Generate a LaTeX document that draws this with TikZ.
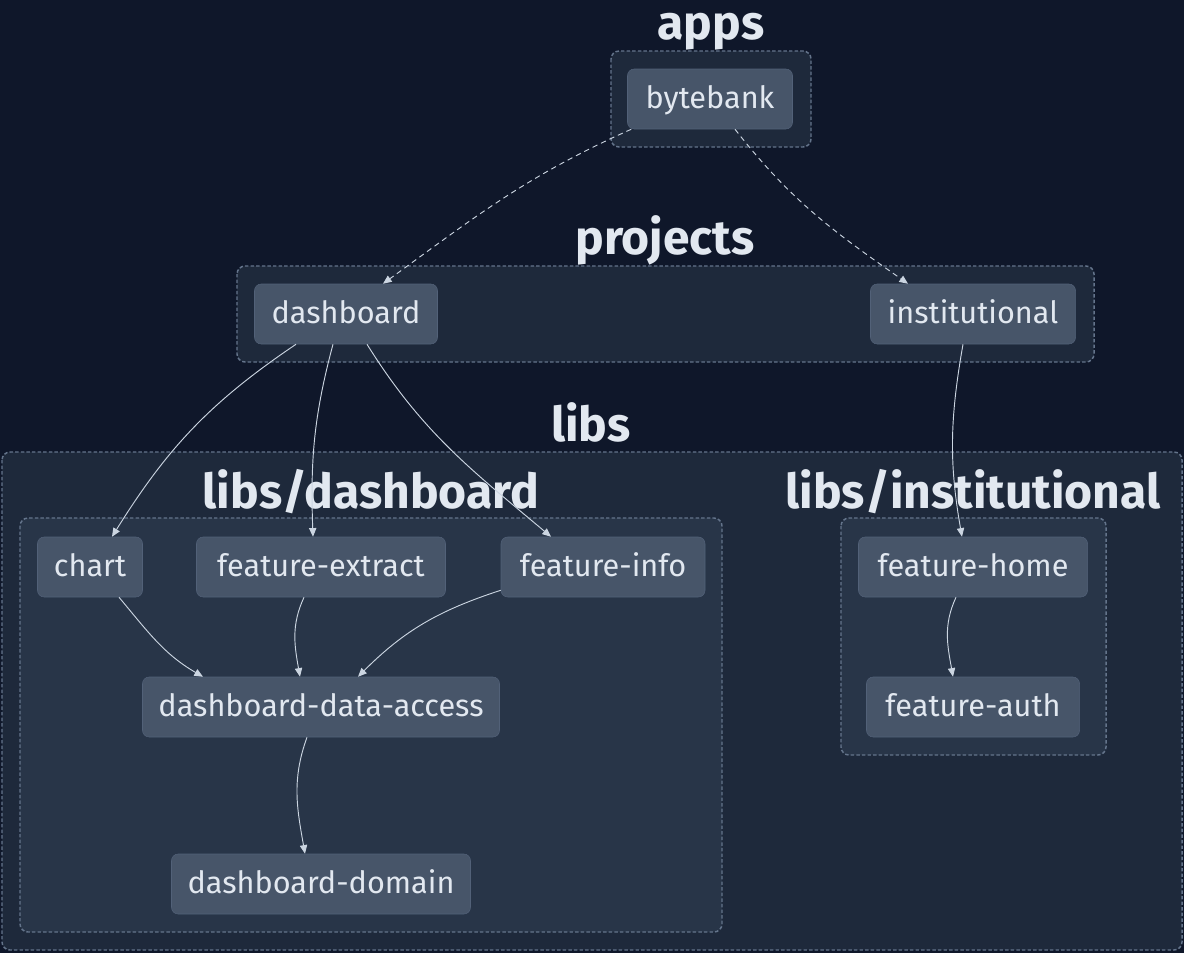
\documentclass[tikz,border=0pt]{standalone}
\usepackage{fontspec}
\setmainfont{Fira Sans}
\usetikzlibrary{calc,arrows.meta}
\definecolor{graphBg}{HTML}{0F172A}
\definecolor{groupFill}{HTML}{1E293B}
\definecolor{subFill}{HTML}{283548}
\definecolor{groupLine}{HTML}{64748B}
\definecolor{nodeFill}{HTML}{475569}
\definecolor{nodeLine}{HTML}{526178}
\definecolor{inkLight}{HTML}{E2E8F0}
\definecolor{edgeInk}{HTML}{CBD5E1}
\newlength{\px}\setlength{\px}{0.75pt}
\tikzset{
  group/.style={draw=groupLine,fill=groupFill,line width=1.1pt,dash pattern=on 2.6pt off 1.6pt,rounded corners=6pt},
  subgroup/.style={group,fill=subFill},
  grouptitle/.style={anchor=base,text=inkLight,font=\bfseries\fontsize{36}{36}\selectfont},
  pkg/.style={draw=nodeLine,fill=nodeFill,rounded corners=5pt,inner sep=0pt,minimum height=60\px,
    minimum width=#1\px,text=inkLight,font=\fontsize{23}{23}\selectfont,text height=17pt,text depth=3.5pt},
  dep/.style={draw=edgeInk,line width=0.7pt,-{Triangle[length=6.5pt,width=5.5pt]}},
  implicit/.style={dep,dash pattern=on 4pt off 3pt}
}

\begin{document}
\begin{tikzpicture}[x=0.75pt,y=-0.75pt]
  \fill[graphBg] (0,0) rectangle (1184,953);
  \useasboundingbox (0,0) rectangle (1184,953);
  % groups
  \draw[group] (611,51) rectangle (811,147);
  \node[grouptitle] (appsTitle) at (711,39) {apps};
  \draw[group] (237,266) rectangle (1094,362);
  \node[grouptitle] (projectsTitle) at (665,254) {projects};
  \draw[group] (2,452) rectangle (1182,950);
  \node[grouptitle] (libsTitle) at (591,441) {libs};
  \draw[subgroup] (20,518) rectangle (722,932);
  \node[grouptitle] (libsDashTitle) at (371,508) {libs/dashboard};
  \draw[subgroup] (841,518) rectangle (1106,755);
  \node[grouptitle] (libsInstTitle) at (973,508) {libs/institutional};
  % packages
  \node[pkg=165] (bytebank) at (710,99) {bytebank};
  \node[pkg=183] (dashboard) at (346,314) {dashboard};
  \node[pkg=205] (institutional) at (973,314) {institutional};
  \node[pkg=105] (chart) at (90,567) {chart};
  \node[pkg=249] (featExtract) at (321,567) {feature-extract};
  \node[pkg=204] (featInfo) at (603,567) {feature-info};
  \node[pkg=357] (dataAccess) at (321,707) {dashboard-data-access};
  \node[pkg=299] (domain) at (321,884) {dashboard-domain};
  \node[pkg=229] (featHome) at (973,567) {feature-home};
  \node[pkg=213] (featAuth) at (973,707) {feature-auth};
  % dependencies
  \draw[implicit] ($(bytebank.south west)+(4,0)$) to[out=-156,in=36] ($(dashboard.north)+(37,0)$);
  \draw[implicit] ($(bytebank.south)+(25,0)$) to[out=-52,in=145] ($(institutional.north)+(-65,0)$);
  \draw[dep] ($(dashboard.south)+(-50,0)$) to[out=-146,in=58] ($(chart.north)+(22,0)$);
  \draw[dep] ($(dashboard.south)+(-13,0)$) to[out=-105,in=92] ($(featExtract.north)+(-8,0)$);
  \draw[dep] ($(dashboard.south)+(21,0)$) to[out=-58,in=140] ($(featInfo.north)+(-52,0)$);
  \draw[dep] ($(institutional.south)+(-10,0)$) to[out=-100,in=100] ($(featHome.north)+(-11,0)$);
  \draw[dep] ($(chart.south)+(29,0)$) to[out=-50,in=150] ($(dataAccess.north)+(-118,0)$);
  \draw[dep] ($(featExtract.south)+(-17,0)$) to[out=-115,in=100] ($(dataAccess.north)+(-21,0)$);
  \draw[dep] ($(featInfo.south west)+(0,-7)$) to[out=-162,in=45] ($(dataAccess.north)+(37,0)$);
  \draw[dep] ($(dataAccess.south)+(-14,0)$) to[out=-110,in=100] ($(domain.north)+(-16,0)$);
  \draw[dep] ($(featHome.south)+(-17,0)$) to[out=-115,in=100] ($(featAuth.north)+(-20,0)$);
\end{tikzpicture}
\end{document}
